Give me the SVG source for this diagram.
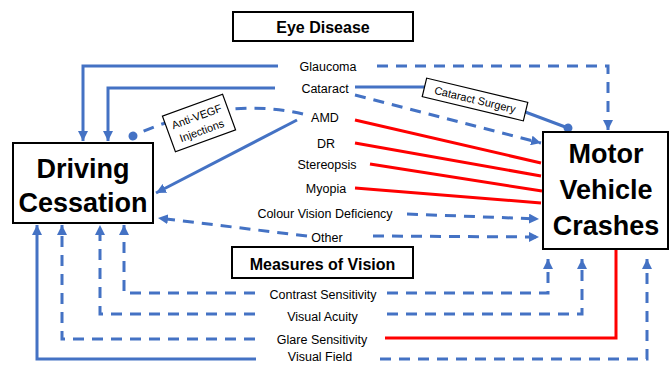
<svg xmlns="http://www.w3.org/2000/svg" width="670" height="365" viewBox="0 0 670 365">
<style>
.ln{fill:none;stroke:#4472C4;stroke-width:3}
.ds{stroke-dasharray:11 8}
.rd{fill:none;stroke:#FF0000;stroke-width:3}
.box{fill:#fff;stroke:#000;stroke-width:2}
.sbox{fill:#fff;stroke:#000;stroke-width:1.2}
.lab{font-family:"Liberation Sans",Arial,sans-serif;font-size:12.5px;fill:#000;text-anchor:middle}
.big{font-family:"Liberation Sans",Arial,sans-serif;font-size:27px;font-weight:bold;fill:#000;text-anchor:middle}
.hd{font-family:"Liberation Sans",Arial,sans-serif;font-size:16px;font-weight:bold;fill:#000;text-anchor:middle}
.sm{font-family:"Liberation Sans",Arial,sans-serif;font-size:11px;fill:#000;text-anchor:middle}
</style>
<defs>
<marker id="arr" markerUnits="userSpaceOnUse" markerWidth="10" markerHeight="10" refX="10" refY="5" orient="auto">
<path d="M0,0 L10,5 L0,10 z" fill="#4472C4"/>
</marker>
<marker id="dot" markerUnits="userSpaceOnUse" markerWidth="10" markerHeight="10" refX="5" refY="5" orient="auto">
<circle cx="5" cy="5" r="4.5" fill="#4472C4"/>
</marker>
</defs>
<rect width="670" height="365" fill="#fff"/>
<g id="connectors">
<path id="glaucoma-dc" class="ln" d="M278,66 H83 V141" marker-end="url(#arr)"/>
<path id="cataract-dc" class="ln" d="M275,88 H108 V141" marker-end="url(#arr)"/>
<path id="glaucoma-mvc" class="ln ds" d="M377,66 H608 V130" marker-end="url(#arr)"/>
<path id="cataract-surgery-mvc" class="ln" d="M355,87 H432 L520,110 L568,128" marker-end="url(#dot)"/>
<path id="cataract-mvc" class="ln ds" d="M355,95 L541,143" marker-end="url(#arr)"/>
<path id="amd-antivegf-dc" class="ln ds" d="M303,114 Q270,106 232,109 L165,123 Q150,128 133,136" marker-end="url(#dot)"/>
<path id="amd-dc" class="ln" d="M297,120 L156,193" marker-end="url(#arr)"/>
<path id="amd-mvc" class="rd" d="M355,120 L541,163"/>
<path id="dr-mvc" class="rd" d="M355,143 L541,176"/>
<path id="stereopsis-mvc" class="rd" d="M370,164 L542,191"/>
<path id="myopia-mvc" class="rd" d="M355,188 L541,203"/>
<path id="cvd-mvc" class="ln ds" d="M407,214 L539,219" marker-end="url(#arr)"/>
<path id="other-mvc" class="ln ds" d="M373,236 L539,237" marker-end="url(#arr)"/>
<path id="other-dc" class="ln ds" d="M307,236 L158,218" marker-end="url(#arr)"/>
<path id="contrast-dc" class="ln ds" d="M255,293 H124 V225" marker-end="url(#arr)"/>
<path id="contrast-mvc" class="ln ds" d="M387,293 H548 V259" marker-end="url(#arr)"/>
<path id="acuity-dc" class="ln ds" d="M255,314 H100 V225" marker-end="url(#arr)"/>
<path id="acuity-mvc" class="ln ds" d="M387,314 H582 V259" marker-end="url(#arr)"/>
<path id="glare-dc" class="ln ds" d="M255,339 H62 V225" marker-end="url(#arr)"/>
<path id="glare-mvc" class="rd" d="M385,338 H616 V249"/>
<path id="field-dc" class="ln" d="M256,359 H37 V225" marker-end="url(#arr)"/>
<path id="field-mvc" class="ln ds" d="M380,359 H647 V259" marker-end="url(#arr)"/>
</g>
<g id="eye-disease"><rect class="box" x="233" y="12" width="180" height="29"/><text class="hd" x="323" y="32.5">Eye Disease</text></g>
<g id="measures-of-vision"><rect class="box" x="232" y="247" width="181" height="31"/><text class="hd" x="322.5" y="269.5">Measures of Vision</text></g>
<g id="driving-cessation"><rect class="box" x="13" y="143" width="140" height="80"/><text class="big" x="83" y="178">Driving</text><text class="big" x="83" y="212">Cessation</text></g>
<g id="motor-vehicle-crashes"><rect class="box" x="543" y="132" width="125" height="117"/><text class="big" x="606" y="163">Motor</text><text class="big" x="606" y="199">Vehicle</text><text class="big" x="606" y="235">Crashes</text></g>
<g id="anti-vegf" transform="translate(199,123) rotate(-20)"><rect class="sbox" x="-32" y="-19" width="64" height="38"/><text class="sm" x="0" y="-3">Anti-VEGF</text><text class="sm" x="0" y="12">Injections</text></g>
<g id="cataract-surgery" transform="translate(475,99.5) rotate(13.5)"><rect class="sbox" x="-52" y="-9.5" width="104" height="19"/><text class="sm" x="0" y="4">Cataract Surgery</text></g>
<g id="glaucoma"><text class="lab" x="328" y="70.5">Glaucoma</text></g>
<g id="cataract"><text class="lab" x="325" y="92.5">Cataract</text></g>
<g id="amd"><text class="lab" x="325" y="121.5">AMD</text></g>
<g id="dr"><text class="lab" x="326" y="147.5">DR</text></g>
<g id="stereopsis"><text class="lab" x="327" y="168.5">Stereopsis</text></g>
<g id="myopia"><text class="lab" x="326" y="192.5">Myopia</text></g>
<g id="colour-vision-deficiency"><text class="lab" x="325" y="217.5">Colour Vision Deficiency</text></g>
<g id="other"><text class="lab" x="327" y="241.5">Other</text></g>
<g id="contrast-sensitivity"><text class="lab" x="323" y="298.5">Contrast Sensitivity</text></g>
<g id="visual-acuity"><text class="lab" x="322.5" y="320.5">Visual Acuity</text></g>
<g id="glare-sensitivity"><text class="lab" x="322" y="343.5">Glare Sensitivity</text></g>
<g id="visual-field"><text class="lab" x="320" y="361">Visual Field</text></g>
</svg>
